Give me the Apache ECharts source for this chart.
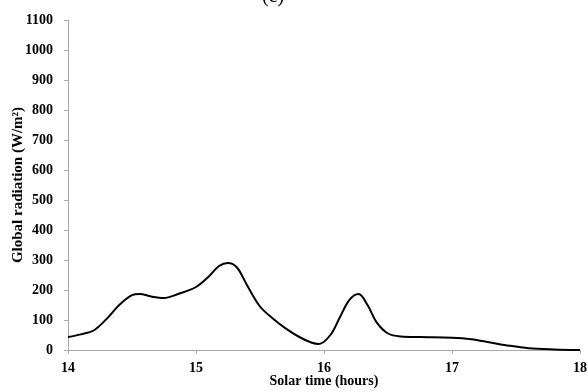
<!DOCTYPE html>
<html><head><meta charset="utf-8">
<script src="https://cdn.jsdelivr.net/npm/echarts@6/dist/echarts.min.js"></script>
<style>html,body{margin:0;padding:0;background:#fff}#c{width:588px;height:392px}</style>
</head><body><div id="c"></div>
<script>
const times = [14.0,14.1,14.2,14.3,14.4,14.5,14.56,14.65,14.75,14.85,15.0,15.1,15.18,15.25,15.32,15.4,15.5,15.6,15.7,15.8,15.9,15.96,16.05,16.125,16.2,16.27,16.34,16.41,16.5,16.6,16.75,17.0,17.15,17.3,17.45,17.6,17.8,18.0];
const radiation = [43,52,65,103,150,183,187,178,173,185,210,245,280,290,275,215,145,105,72,45,25,20,50,110,168,187,150,93,55,45,43,41,36,25,14,6,2,0];
const yTicks = {min:0,max:1100,interval:100};
const xTicks = {min:14,max:18,interval:1};
const font = 'Liberation Serif, Times New Roman, serif';
const chart = echarts.init(document.getElementById('c'));
chart.setOption({
  animation:false,
  title:{text:'(c)',left:268,top:-18,textAlign:'center',textStyle:{fontFamily:font,fontWeight:'normal',fontSize:20,color:'#000'}},
  grid:{left:68,right:8,top:20,bottom:42,containLabel:false,outerBoundsMode:'none'},
  xAxis:{type:'value',min:xTicks.min,max:xTicks.max,interval:xTicks.interval,
    name:'Solar time (hours)',nameLocation:'middle',nameGap:24,nameMoveOverlap:false,
    nameTextStyle:{fontFamily:font,fontWeight:'bold',fontSize:14,color:'#000'},
    axisLine:{lineStyle:{color:'#aaa',width:1}},axisTick:{show:true,length:4,lineStyle:{color:'#aaa'}},
    splitLine:{show:false},
    axisLabel:{fontFamily:font,fontWeight:'bold',fontSize:14,color:'#000',margin:11}},
  yAxis:{type:'value',min:yTicks.min,max:yTicks.max,interval:yTicks.interval,
    name:'Global radiation (W/m²)',nameLocation:'middle',nameGap:42,nameMoveOverlap:false,
    nameTextStyle:{fontFamily:font,fontWeight:'bold',fontSize:15,color:'#000'},
    axisLine:{show:true,lineStyle:{color:'#aaa',width:1}},axisTick:{show:true,length:4,lineStyle:{color:'#aaa'}},
    splitLine:{show:false},
    axisLabel:{fontFamily:font,fontWeight:'bold',fontSize:14,color:'#000',margin:15,formatter:v=>String(v)}},
  series:[{type:'line',data:times.map((t,i)=>[t,radiation[i]]),smooth:0.35,showSymbol:false,
    lineStyle:{color:'#000',width:2}}]
});
</script></body></html>
